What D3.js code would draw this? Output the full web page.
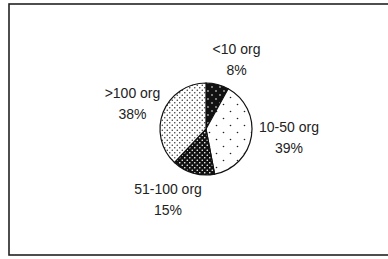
<!DOCTYPE html>
<html>
<head>
<meta charset="utf-8">
<script src="https://cdn.jsdelivr.net/npm/d3@7"></script>
<style>
  body { margin: 0; background: #fff; }
  text { font-family: "Liberation Sans", Arial, sans-serif; font-size: 14px; fill: #222; }
</style>
</head>
<body>
<div id="chart"></div>
<script>
// data
var categories = ["<10 org", "10-50 org", "51-100 org", ">100 org"]
var percents = [8, 39, 15, 38]

var width = 388, height = 259
var cx = 206, cy = 129, radius = 46

var svg = d3.select("#chart").append("svg")
  .attr("width", width)
  .attr("height", height)

// outer frame (right side runs off the picture)
svg.append("rect")
  .attr("x", 9).attr("y", 4)
  .attr("width", 390).attr("height", 251)
  .attr("fill", "white").attr("stroke", "#222").attr("stroke-width", 1.6)

// fill patterns
var defs = svg.append("defs")
function dotPattern(id, bg, dot, size, r) {
  var p = defs.append("pattern")
    .attr("id", id)
    .attr("patternUnits", "userSpaceOnUse")
    .attr("width", size).attr("height", size)
  p.append("rect").attr("width", size).attr("height", size).attr("fill", bg)
  p.append("circle").attr("cx", size / 4).attr("cy", size / 4).attr("r", r).attr("fill", dot)
  p.append("circle").attr("cx", size * 3 / 4).attr("cy", size * 3 / 4).attr("r", r).attr("fill", dot)
}
dotPattern("p0", "#111", "#fff", 8, 0.8)
dotPattern("p1", "#fff", "#222", 14, 0.8)
dotPattern("p2", "#111", "#fff", 5, 0.8)
dotPattern("p3", "#fff", "#333", 5, 0.75)
var fills = ["url(#p0)", "url(#p1)", "url(#p2)", "url(#p3)"]

var pie = d3.pie().sort(null).value(function (d) { return d })
var arc = d3.arc().innerRadius(0).outerRadius(radius)

var g = svg.append("g").attr("transform", "translate(" + cx + "," + cy + ")")

g.selectAll("path")
  .data(pie(percents))
  .enter()
  .append("path")
  .attr("d", arc)
  .attr("fill", function (d, i) { return fills[i] })
  .attr("stroke", "#111")
  .attr("stroke-width", 1.2)

// labels placed around the pie
var labelPos = [[30.5, -75], [83, 3], [-38, 65], [-73.5, -31]]

var lab = svg.selectAll(".lbl")
  .data(categories)
  .enter()
  .append("text")
  .attr("class", "lbl")
  .attr("text-anchor", "middle")
  .attr("x", function (d, i) { return cx + labelPos[i][0] })
  .attr("y", function (d, i) { return cy + labelPos[i][1] })

lab.append("tspan").text(function (d) { return d })
lab.append("tspan")
  .attr("x", function (d, i) { return cx + labelPos[i][0] })
  .attr("dy", 21)
  .text(function (d, i) { return percents[i] + "%" })
</script>
</body>
</html>
